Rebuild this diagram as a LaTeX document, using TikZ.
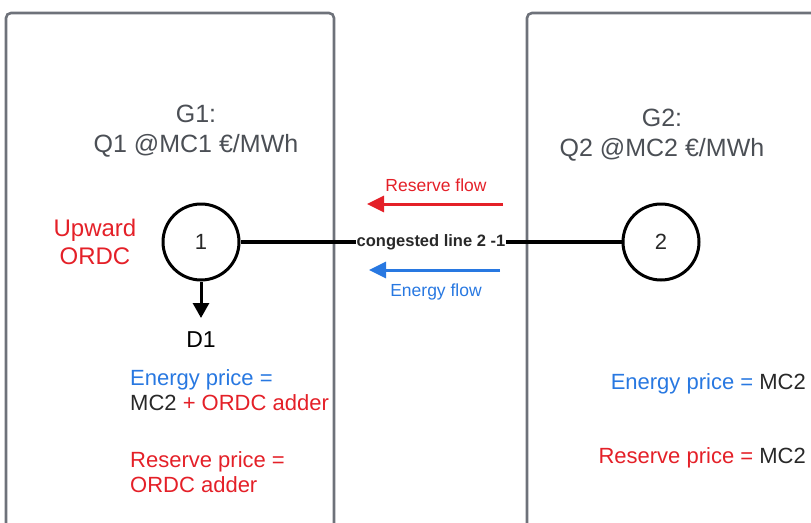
\documentclass[tikz,border=0pt]{standalone}
\usepackage{fontspec}
\setmainfont{Liberation Sans}
\usetikzlibrary{arrows.meta}
\definecolor{boxgray}{RGB}{110,114,122}
\definecolor{gtext}{RGB}{75,79,85}
\definecolor{dtext}{RGB}{40,40,40}
\definecolor{ordcred}{RGB}{228,32,40}
\definecolor{enblue}{RGB}{40,120,225}
\tikzset{
  zonebox/.style={draw=boxgray, line width=2.6pt, rounded corners=5pt},
  bus/.style={circle, draw=black, line width=3pt, minimum size=76pt, inner sep=0pt, font=\fontsize{22}{26}\selectfont, text=dtext},
  bigtxt/.style={font=\fontsize{22}{28}\selectfont, inner sep=0pt},
  smalltxt/.style={font=\fontsize{17.5}{20}\selectfont, inner sep=0pt},
  flow/.style={line width=3pt, -{Triangle[length=17pt,width=16pt]}},
}
\begin{document}
\begin{tikzpicture}[x=1pt,y=-1pt]
\useasboundingbox (0,0) rectangle (811,522);
% zone boxes (cut by the page edges)
\draw[zonebox] (6,540) -- (6,13) -- (334,13) -- (334,540);
\draw[zonebox] (527,540) -- (527,13) -- (840,13);
% texts at top
\node[bigtxt, text=gtext, align=center, font=\fontsize{25}{30}\selectfont] (g1) at (196,131) {G1:\\Q1 @MC1 €/MWh};
\node[bigtxt, text=gtext, align=center, font=\fontsize{25}{30}\selectfont] (g2) at (662,135) {G2:\\Q2 @MC2 €/MWh};
% buses
\node[bus] (b1) at (201,242) {1};
\node[bus] (b2) at (661,242) {2};
\draw[line width=3.2pt] (b1) -- (b2) node[midway, fill=white, inner sep=1pt, font=\bfseries\fontsize{16.5}{20}\selectfont, text=dtext] (cl) {congested line 2 -1};
% flows
\coordinate (rs) at (503,204);
\coordinate (re) at (367,204);
\draw[flow, draw=ordcred, fill=ordcred] (rs) -- (re);
\node[smalltxt, text=ordcred] (rf) at (436,185) {Reserve flow};
\coordinate (es) at (500,270);
\coordinate (ee) at (369,270);
\draw[flow, draw=enblue, fill=enblue] (es) -- (ee);
\node[smalltxt, text=enblue] (ef) at (436,292) {Energy flow};
% ORDC label
\node[bigtxt, text=ordcred, align=center, font=\fontsize{24}{28}\selectfont] (ordc) at (95,242) {Upward\\ORDC};
% demand
\coordinate (dt) at (201,318);
\draw[line width=3pt, -{Triangle[length=15pt,width=16pt]}] (b1) -- (dt);
\node[bigtxt, text=black, font=\fontsize{23}{28}\selectfont] (d1) at (201,340) {D1};
% left prices
\node[bigtxt, anchor=west, align=left, font=\fontsize{22}{24.5}\selectfont] (lep) at (130,390) {\textcolor{enblue}{Energy price =}\\\textcolor{dtext}{MC2} \textcolor{ordcred}{+ ORDC adder}};
\node[bigtxt, anchor=west, align=left, text=ordcred, font=\fontsize{22}{25}\selectfont] (lrp) at (130,472) {Reserve price =\\ORDC adder};
% right prices
\node[bigtxt, anchor=east] (rep) at (806,384) {\textcolor{enblue}{Energy price =} \textcolor{dtext}{MC2}};
\node[bigtxt, anchor=east] (rrp) at (806,458) {\textcolor{ordcred}{Reserve price =} \textcolor{dtext}{MC2}};
\end{tikzpicture}
\end{document}
